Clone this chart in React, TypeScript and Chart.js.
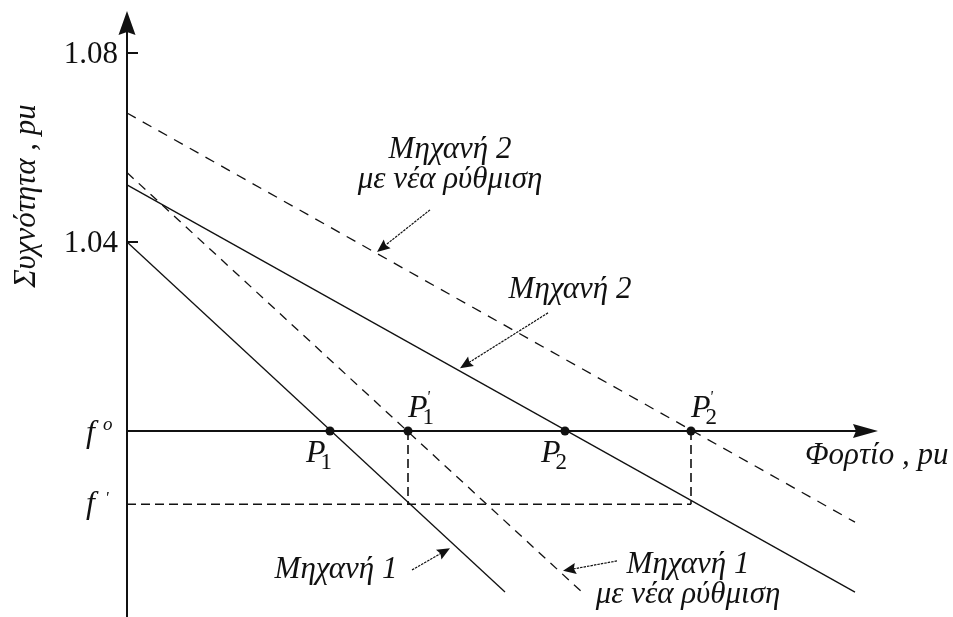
import { useEffect, useRef } from "react";
import { Chart, registerables } from "chart.js";

Chart.register(...registerables);

// Visible window of the diagram (load in pu along x, frequency in pu along y)
const LOAD_RANGE = [-1.27, 8.26];
const FREQ_RANGE = [0.96063, 1.09122];

// Droop characteristics, each given by its two end points (load, frequency)
const machine1 = [
  { x: 0, y: 1.04 },
  { x: 3.78, y: 0.9659 },
];
const machine1New = [
  { x: 0, y: 1.0547 },
  { x: 4.56, y: 0.9657 },
];
const machine2 = [
  { x: 0, y: 1.0521 },
  { x: 7.28, y: 0.9659 },
];
const machine2New = [
  { x: 0, y: 1.0673 },
  { x: 7.28, y: 0.9807 },
];

// Nominal and new system frequency
const F_NOMINAL = 1.0;
const F_NEW = 0.9845;
const LOAD_AXIS_END = 7.51;
const FREQ_AXIS_TOP = 1.0889;

// Operating points on the nominal-frequency line
const operatingLoads = [2.03, 2.81, 4.38, 5.64];
const operatingSubscripts = ["1", "1", "2", "2"];
const operatingPrimed = [false, true, false, true];

// Frequency axis tick values and labels
const freqTickValues = [1.08, 1.04];
const freqTickLabels = ["1.08", "1.04"];

// Curve captions (centre of first line, baseline) and their pointer arrows
const captionLines = [
  ["Μηχανή 2", "με νέα ρύθμιση"],
  ["Μηχανή 2"],
  ["Μηχανή 1"],
  ["Μηχανή 1", "με νέα ρύθμιση"],
];
const captionLoads = [3.23, 4.43, 2.09, 5.61];
const captionFreqs = [1.0578, 1.0281, 0.9689, 0.97];
const arrowFrom = [
  { x: 3.03, y: 1.0468 },
  { x: 4.21, y: 1.025 },
  { x: 2.85, y: 0.9706 },
  { x: 4.9, y: 0.9725 },
];
const arrowTo = [
  { x: 2.5, y: 1.0379 },
  { x: 3.33, y: 1.0133 },
  { x: 3.23, y: 0.9752 },
  { x: 4.36, y: 0.9704 },
];

const FREQ_TITLE = "Συχνότητα , pu";
const LOAD_TITLE = "Φορτίο , pu";

const SERIF = '"Liberation Serif", "DejaVu Serif", serif';
const INK = "#111";

function arrowHead(
  ctx: CanvasRenderingContext2D,
  tx: number,
  ty: number,
  angle: number,
  len: number,
  half: number,
  notch: number
) {
  ctx.save();
  ctx.translate(tx, ty);
  ctx.rotate(angle);
  ctx.beginPath();
  ctx.moveTo(0, 0);
  ctx.lineTo(-len, -half);
  ctx.lineTo(-len + notch, 0);
  ctx.lineTo(-len, half);
  ctx.closePath();
  ctx.fillStyle = INK;
  ctx.fill();
  ctx.restore();
}

const decorPlugin = {
  id: "droopDecor",
  beforeDraw(chart: any) {
    const { ctx, width, height } = chart;
    ctx.save();
    ctx.fillStyle = "#fff";
    ctx.fillRect(0, 0, width, height);
    ctx.restore();
  },
  afterDatasetsDraw(chart: any) {
    const { ctx } = chart;
    const xs = chart.scales.x;
    const ys = chart.scales.y;
    const px = (v: number) => xs.getPixelForValue(v);
    const py = (v: number) => ys.getPixelForValue(v);
    const x0 = px(0);

    ctx.save();
    ctx.fillStyle = INK;
    ctx.strokeStyle = INK;

    // axis arrowheads
    arrowHead(ctx, x0, py(FREQ_AXIS_TOP), -Math.PI / 2, 24, 8.5, 3);
    arrowHead(ctx, px(LOAD_AXIS_END), py(F_NOMINAL), 0, 25, 7, 3);

    // frequency ticks
    ctx.lineWidth = 2;
    freqTickValues.forEach((v) => {
      ctx.beginPath();
      ctx.moveTo(x0, py(v));
      ctx.lineTo(x0 + 11, py(v));
      ctx.stroke();
    });

    ctx.font = `31px ${SERIF}`;
    ctx.textAlign = "right";
    ctx.textBaseline = "alphabetic";
    freqTickValues.forEach((v, i) => {
      ctx.fillText(freqTickLabels[i], x0 - 9, py(v) + 10);
    });

    // f° and f' marks
    ctx.font = `italic 32px ${SERIF}`;
    ctx.textAlign = "left";
    const fy0 = py(F_NOMINAL);
    ctx.fillText("f", x0 - 41, fy0 + 11);
    ctx.font = `italic 19px ${SERIF}`;
    ctx.fillText("o", x0 - 24, fy0 - 1);
    const fy1 = py(F_NEW);
    ctx.font = `italic 32px ${SERIF}`;
    ctx.fillText("f", x0 - 41, fy1 + 9);
    ctx.font = `italic 17px ${SERIF}`;
    ctx.fillText("'", x0 - 22, fy1 - 1);

    // operating point labels
    operatingLoads.forEach((load, i) => {
      const cx = px(load);
      const primed = operatingPrimed[i];
      const bx = primed ? cx : cx - 24;
      const by = primed ? fy0 - 14 : fy0 + 31;
      ctx.font = `italic 32px ${SERIF}`;
      ctx.fillText("P", bx, by);
      const w = ctx.measureText("P").width;
      ctx.font = `23px ${SERIF}`;
      ctx.fillText(operatingSubscripts[i], bx + w - 5, by + 7);
      if (primed) {
        ctx.font = `italic 16px ${SERIF}`;
        ctx.fillText("'", bx + w - 1, by - 15);
      }
    });

    // captions
    ctx.textAlign = "center";
    ctx.font = `italic 31px ${SERIF}`;
    captionLines.forEach((lines, i) => {
      const cx = px(captionLoads[i]);
      const cy = py(captionFreqs[i]);
      lines.forEach((line, j) => ctx.fillText(line, cx, cy + j * 30));
    });

    // pointer arrows
    ctx.lineWidth = 1.2;
    ctx.setLineDash([2.5, 1]);
    arrowFrom.forEach((f, i) => {
      const t = arrowTo[i];
      const ax = px(f.x);
      const ay = py(f.y);
      const bx = px(t.x);
      const by = py(t.y);
      const ang = Math.atan2(by - ay, bx - ax);
      ctx.beginPath();
      ctx.moveTo(ax, ay);
      ctx.lineTo(bx - Math.cos(ang) * 8, by - Math.sin(ang) * 8);
      ctx.stroke();
      ctx.setLineDash([]);
      arrowHead(ctx, bx, by, ang, 13, 5.5, 2);
      ctx.setLineDash([2.5, 1]);
    });
    ctx.setLineDash([]);

    // axis titles
    ctx.font = `italic 31px ${SERIF}`;
    ctx.textAlign = "left";
    ctx.fillText(LOAD_TITLE, px(LOAD_AXIS_END) - 73, fy0 + 33);

    ctx.save();
    ctx.translate(35, 196);
    ctx.rotate(-Math.PI / 2);
    ctx.textAlign = "center";
    ctx.textBaseline = "alphabetic";
    ctx.fillText(FREQ_TITLE, 0, 0);
    ctx.restore();

    ctx.restore();
  },
};

export default function App() {
  const canvasRef = useRef<HTMLCanvasElement | null>(null);

  useEffect(() => {
    document.body.style.margin = "0";
    const canvas = canvasRef.current;
    if (!canvas) return;

    const solid = (data: { x: number; y: number }[]) => ({
      data,
      showLine: true,
      borderColor: INK,
      borderWidth: 1.3,
      pointRadius: 0,
    });
    const dashed = (data: { x: number; y: number }[], dash: number[], w = 1.3) => ({
      data,
      showLine: true,
      borderColor: INK,
      borderWidth: w,
      borderDash: dash,
      pointRadius: 0,
    });

    const chart = new Chart(canvas, {
      type: "scatter",
      data: {
        datasets: [
          {
            data: operatingLoads.map((x) => ({ x, y: F_NOMINAL })),
            showLine: false,
            pointRadius: 4.5,
            pointHoverRadius: 4.5,
            pointBackgroundColor: INK,
            pointBorderColor: INK,
            pointBorderWidth: 0,
          },
          // load axis at nominal frequency
          {
            data: [
              { x: 0, y: F_NOMINAL },
              { x: LOAD_AXIS_END - 0.1, y: F_NOMINAL },
            ],
            showLine: true,
            borderColor: INK,
            borderWidth: 2,
            pointRadius: 0,
          },
          // frequency axis
          {
            data: [
              { x: 0, y: FREQ_RANGE[0] },
              { x: 0, y: FREQ_AXIS_TOP - 0.002 },
            ],
            showLine: true,
            borderColor: INK,
            borderWidth: 2,
            pointRadius: 0,
          },
          solid(machine1),
          solid(machine2),
          dashed(machine1New, [9, 7]),
          dashed(machine2New, [10, 8]),
          // projections of the new operating points onto f'
          dashed(
            [
              { x: 0, y: F_NEW },
              { x: operatingLoads[3], y: F_NEW },
            ],
            [9, 5],
            1.6
          ),
          dashed(
            [
              { x: operatingLoads[1], y: F_NOMINAL },
              { x: operatingLoads[1], y: F_NEW },
            ],
            [9, 5],
            1.6
          ),
          dashed(
            [
              { x: operatingLoads[3], y: F_NOMINAL },
              { x: operatingLoads[3], y: F_NEW },
            ],
            [9, 5],
            1.6
          ),
        ],
      },
      options: {
        responsive: false,
        animation: false,
        devicePixelRatio: 1,
        layout: { padding: 0, autoPadding: false },
        plugins: {
          legend: { display: false },
          tooltip: { enabled: false },
        },
        scales: {
          x: { type: "linear", min: LOAD_RANGE[0], max: LOAD_RANGE[1], display: false },
          y: { type: "linear", min: FREQ_RANGE[0], max: FREQ_RANGE[1], display: false },
        },
      },
      plugins: [decorPlugin],
    });

    return () => chart.destroy();
  }, []);

  return (
    <div style={{ position: "absolute", left: 0, top: 0, width: 953, height: 617 }}>
      <canvas ref={canvasRef} width={953} height={617} />
    </div>
  );
}
